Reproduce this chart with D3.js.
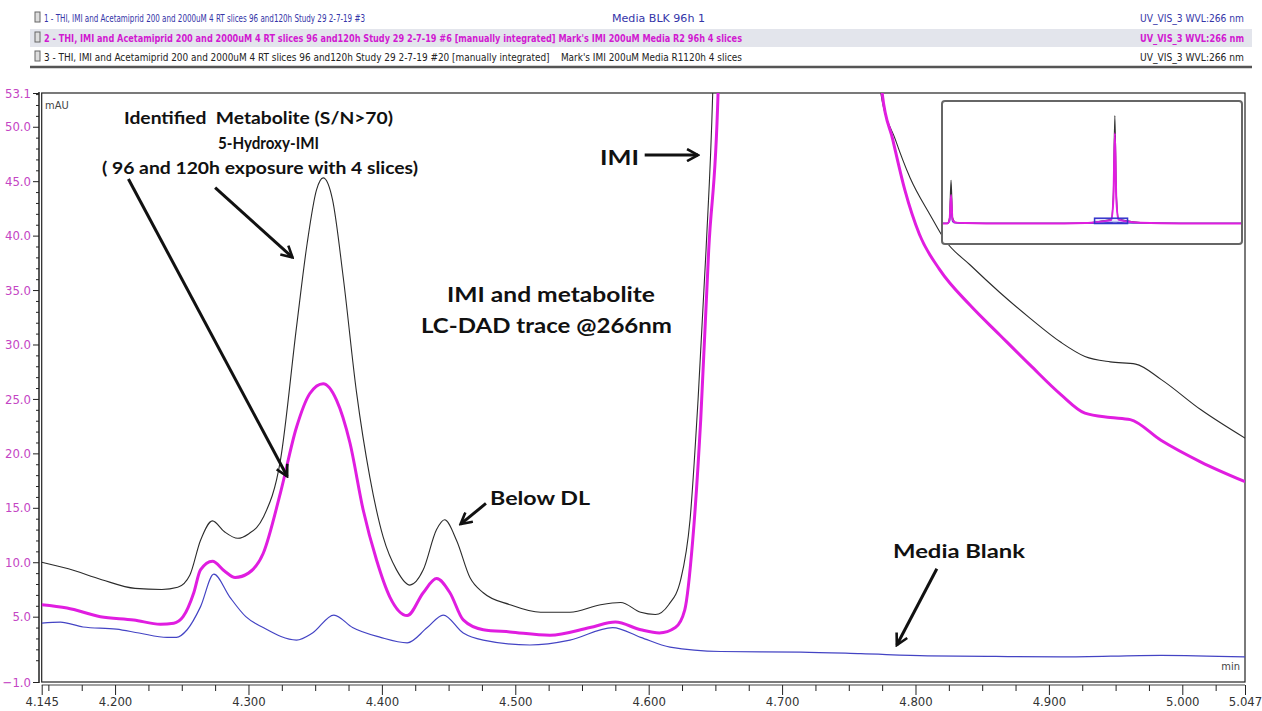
<!DOCTYPE html>
<html>
<head>
<meta charset="utf-8">
<script src="https://cdn.jsdelivr.net/npm/d3@7"></script>
<style>
  body { margin: 0; background: #fff; }
  svg { display: block; }
  .narrow { font-family: "Liberation Sans Narrow", "DejaVu Sans Condensed", "Arial Narrow", sans-serif; white-space: pre; }
  .note { font-family: Lato, "Open Sans", sans-serif; font-weight: bold; fill: #111; white-space: pre; }
</style>
</head>
<body>
<svg width="1262" height="711"></svg>
<script>
// plot box
const plotL = 41.7, plotR = 1245, plotT = 93, plotB = 682;

// trace 1 - media blank (blue)
const blankTime = [4.145, 4.159, 4.176, 4.201, 4.218, 4.239, 4.246, 4.254, 4.264, 4.274, 4.286, 4.298, 4.311, 4.336, 4.348, 4.364, 4.378, 4.399, 4.419, 4.434, 4.446, 4.461, 4.476, 4.511, 4.541, 4.573, 4.594, 4.616, 4.654, 4.714, 4.759, 4.809, 4.860, 4.909, 4.984, 5.047];
const blankAbs  = [4.4, 4.5, 4.05, 3.85, 3.5, 3.1, 3.1, 3.8, 5.9, 8.9, 6.8, 5.0, 4.0, 2.85, 3.5, 5.15, 4.0, 3.1, 2.6, 4.0, 5.15, 3.5, 2.85, 2.4, 2.85, 4.0, 3.1, 2.2, 1.8, 1.75, 1.6, 1.4, 1.35, 1.3, 1.45, 1.3];

// trace 2 - R2 96h (magenta)
const r2Time = [4.145, 4.164, 4.189, 4.214, 4.234, 4.244, 4.251, 4.259, 4.264, 4.273, 4.282, 4.290, 4.300, 4.311, 4.324, 4.336, 4.346, 4.356, 4.366, 4.376, 4.386, 4.396, 4.406, 4.419, 4.431, 4.441, 4.451, 4.461, 4.476, 4.496, 4.526, 4.556, 4.575, 4.594, 4.608, 4.620, 4.627, 4.633, 4.639, 4.645, 4.652, 4.656, 4.665, 4.700, 4.740, 4.766, 4.775, 4.783, 4.792, 4.803, 4.818, 4.841, 4.863, 4.886, 4.909, 4.927, 4.946, 4.961, 4.984, 5.014, 5.047];
const r2Abs  = [6.1, 5.8, 5.0, 4.7, 4.3, 4.4, 5.0, 7.2, 9.3, 10.1, 9.2, 8.6, 9.0, 10.8, 16.4, 22.4, 25.5, 26.4, 24.9, 21.0, 14.8, 10.2, 6.8, 5.1, 7.2, 8.5, 7.2, 4.7, 3.8, 3.6, 3.3, 4.0, 4.5, 3.8, 3.5, 4.0, 5.6, 12.0, 23.1, 38.7, 53.1, 75, 150, 450, 150, 75, 53.1, 48.8, 44.2, 40.1, 36.9, 33.6, 30.9, 28.1, 25.4, 23.7, 23.3, 23.1, 21.2, 19.2, 17.4];

// trace 3 - R1 120h (black)
const r1Time = [4.145, 4.165, 4.190, 4.215, 4.235, 4.247, 4.256, 4.264, 4.273, 4.282, 4.292, 4.300, 4.311, 4.324, 4.336, 4.344, 4.351, 4.356, 4.363, 4.371, 4.381, 4.391, 4.401, 4.411, 4.421, 4.431, 4.441, 4.447, 4.456, 4.466, 4.476, 4.496, 4.519, 4.541, 4.564, 4.579, 4.594, 4.605, 4.615, 4.624, 4.631, 4.637, 4.643, 4.648, 4.652, 4.660, 4.700, 4.740, 4.765, 4.774, 4.785, 4.796, 4.811, 4.822, 4.841, 4.863, 4.886, 4.909, 4.927, 4.946, 4.965, 4.984, 5.014, 5.047];
const r1Abs  = [10.0, 9.4, 8.4, 7.6, 7.5, 7.7, 8.8, 12.0, 13.8, 12.8, 12.2, 12.6, 14.1, 19.4, 31.6, 39.3, 44.2, 45.3, 43.3, 36.2, 25.6, 17.8, 12.3, 9.3, 7.9, 9.3, 13.0, 13.9, 12.0, 8.6, 7.2, 6.1, 5.4, 5.4, 6.1, 6.3, 5.4, 5.2, 6.1, 8.4, 13.9, 24.9, 38.7, 53.1, 75, 150, 500, 150, 75, 53.1, 48.8, 45.3, 41.9, 39.6, 37.3, 34.8, 32.4, 30.2, 28.9, 28.4, 28.2, 26.8, 24.0, 21.4];

// overview inset (whole run)
const ovTime  = [0, 0.12, 0.18, 0.22, 0.26, 0.34, 0.6, 1.5, 3.0, 3.9, 4.3, 4.6, 4.66, 4.70, 4.74, 4.8, 5.0, 5.4, 6.5, 8.15];
const ovBlank = [0, 0, 20, 150, 20, 5, 2, 0, 0, 0, 5, 10, 12, 12, 12, 10, 6, 2, 0, 0];
const ovR2    = [0, 0, 40, 290, 40, 8, 3, 0, 0, 3, 18, 35, 250, 920, 250, 40, 22, 6, 0, 0];
const ovR1    = [0, 0, 60, 440, 60, 10, 3, 0, 0, 3, 22, 42, 300, 1100, 300, 50, 28, 8, 0, 0];

// axis ticks
const xTicks = [4.145, 4.200, 4.300, 4.400, 4.500, 4.600, 4.700, 4.800, 4.900, 5.000, 5.047];
const yTicks = [-1.0, 5.0, 10.0, 15.0, 20.0, 25.0, 30.0, 35.0, 40.0, 45.0, 50.0, 53.1];

const svg = d3.select("svg");

const x = d3.scaleLinear().domain([4.145, 5.047]).range([plotL, plotR]);
const y = d3.scaleLinear().domain([-1.0, 53.1]).range([plotB, plotT]);

// ---- header
svg.append("rect").attr("x", 30).attr("y", 29).attr("width", 1222).attr("height", 18).attr("fill", "#e3e5ec");
svg.append("line").attr("x1", 30).attr("x2", 1252).attr("y1", 67).attr("y2", 67)
  .attr("stroke", "#555").attr("stroke-width", 2.5);

const header = [
  {by: 22, color: "#3535a8", bold: false, size: 11, parts: [
    {t: "1 - THI, IMI and Acetamiprid 200 and 2000uM 4 RT slices 96 and120h Study 29 2-7-19 #3", x: 44, w: 321},
    {t: "Media BLK 96h 1", x: 612, w: 93},
    {t: "UV_VIS_3 WVL:266 nm", x: 1140, w: 104}]},
  {by: 42, color: "#d11ad1", bold: true, size: 10, parts: [
    {t: "2 - THI, IMI and Acetamiprid 200 and 2000uM 4 RT slices 96 and120h Study 29 2-7-19 #6 [manually integrated] Mark's IMI 200uM Media R2 96h 4 slices", x: 44, w: 698},
    {t: "UV_VIS_3 WVL:266 nm", x: 1140, w: 104}]},
  {by: 61, color: "#222", bold: false, size: 11, parts: [
    {t: "3 - THI, IMI and Acetamiprid 200 and 2000uM 4 RT slices 96 and120h Study 29 2-7-19 #20 [manually integrated]    Mark's IMI 200uM Media R1120h 4 slices", x: 44, w: 698},
    {t: "UV_VIS_3 WVL:266 nm", x: 1140, w: 104}]}
];

header.forEach(function(row) {
  // little trace icon
  svg.append("rect").attr("x", 35).attr("y", row.by - 10).attr("width", 5).attr("height", 10)
    .attr("fill", "#ddd").attr("stroke", "#666").attr("stroke-width", 1);
  row.parts.forEach(function(p) {
    svg.append("text").attr("class", "narrow")
      .attr("x", p.x).attr("y", row.by)
      .attr("textLength", p.w).attr("lengthAdjust", "spacingAndGlyphs")
      .style("font-size", row.size + "px").style("font-weight", row.bold ? "bold" : "normal")
      .attr("fill", row.color).text(p.t);
  });
});

// ---- frame
svg.append("rect").attr("x", plotL).attr("y", plotT).attr("width", plotR - plotL).attr("height", plotB - plotT)
  .attr("fill", "none").attr("stroke", "#222").attr("stroke-width", 1.2);
svg.append("line").attr("x1", 39).attr("x2", 39).attr("y1", plotT - 1).attr("y2", plotB + 1)
  .attr("stroke", "#222").attr("stroke-width", 1.5);

// ---- y axis
const yMinor = d3.range(0, 54, 1).filter(function(v) { return v % 5 !== 0; });
svg.append("g").attr("transform", "translate(39,0)")
  .call(d3.axisLeft(y).tickValues(yMinor).tickSize(3).tickFormat(""))
  .call(function(g) { g.select(".domain").remove(); })
  .selectAll("line").attr("stroke", "#222");
const yAx = svg.append("g").attr("transform", "translate(39,0)")
  .call(d3.axisLeft(y).tickValues(yTicks).tickSize(6).tickPadding(2).tickFormat(d3.format(".1f")));
yAx.select(".domain").remove();
yAx.selectAll("line").attr("stroke", "#222");
yAx.selectAll("text").attr("class", "narrow").style("fill", "#c445c4").style("font-size", "13px");

// ---- x axis
const xMinor = d3.range(4.150, 5.046, 0.025).filter(function(v) {
  return Math.abs(v * 10 - Math.round(v * 10)) > 0.01;
});
svg.append("line").attr("x1", plotL).attr("x2", plotR).attr("y1", 685).attr("y2", 685)
  .attr("stroke", "#444").attr("stroke-width", 1.2);
svg.append("g").attr("transform", "translate(0,685)")
  .call(d3.axisBottom(x).tickValues(xMinor).tickSize(6).tickFormat(""))
  .call(function(g) { g.select(".domain").remove(); })
  .selectAll("line").attr("stroke", "#222");
const xAx = svg.append("g").attr("transform", "translate(0,685)")
  .call(d3.axisBottom(x).tickValues(xTicks).tickSize(10).tickPadding(2).tickFormat(d3.format(".3f")));
xAx.select(".domain").remove();
xAx.selectAll("line").attr("stroke", "#222");
xAx.selectAll("text").attr("class", "narrow").style("fill", "#333").style("font-size", "13px");

svg.append("text").attr("class", "narrow").attr("x", 45).attr("y", 109)
  .style("font-size", "11px").attr("fill", "#444").text("mAU");
svg.append("text").attr("class", "narrow").attr("x", 1240).attr("y", 670).attr("text-anchor", "end")
  .style("font-size", "11px").attr("fill", "#444").text("min");

// ---- traces
svg.append("clipPath").attr("id", "plotclip").append("rect")
  .attr("x", plotL).attr("y", plotT).attr("width", plotR - plotL).attr("height", plotB - plotT);

const line = d3.line()
  .x(function(d) { return x(d[0]); })
  .y(function(d) { return y(d[1]); })
  .curve(d3.curveMonotoneX);

const traces = [
  {t: blankTime, v: blankAbs, color: "#4444c4", w: 1.2},
  {t: r1Time, v: r1Abs, color: "#2b2b2b", w: 1.1},
  {t: r2Time, v: r2Abs, color: "#e01de0", w: 3}
];
const plot = svg.append("g").attr("clip-path", "url(#plotclip)");
traces.forEach(function(tr) {
  plot.append("path")
    .datum(d3.zip(tr.t, tr.v))
    .attr("d", line)
    .attr("fill", "none")
    .attr("stroke", tr.color)
    .attr("stroke-width", tr.w)
    .attr("stroke-linejoin", "round");
});

// ---- inset overview
const xi = d3.scaleLinear().domain([0, 8.15]).range([943, 1241]);
const yi = d3.scaleLinear().domain([-200, 1250]).range([243, 101]);
const inset = svg.append("g");
inset.append("rect").attr("x", 942).attr("y", 101).attr("width", 300).attr("height", 143).attr("rx", 3)
  .attr("fill", "#fff").attr("stroke", "#666").attr("stroke-width", 2);
const iline = d3.line()
  .x(function(d) { return xi(d[0]); })
  .y(function(d) { return yi(d[1]); })
  .curve(d3.curveMonotoneX);
[{v: ovR1, color: "#333", w: 1.2}, {v: ovBlank, color: "#4444c4", w: 1.2}, {v: ovR2, color: "#e01de0", w: 2}]
  .forEach(function(tr) {
    inset.append("path").datum(d3.zip(ovTime, tr.v)).attr("d", iline)
      .attr("fill", "none").attr("stroke", tr.color).attr("stroke-width", tr.w);
  });
inset.append("rect")
  .attr("x", xi(4.145)).attr("y", yi(53.1))
  .attr("width", xi(5.047) - xi(4.145)).attr("height", yi(-1.0) - yi(53.1))
  .attr("fill", "rgba(90,90,220,0.15)").attr("stroke", "#3333cc").attr("stroke-width", 1.5);

// ---- annotations
const defs = svg.append("defs");
defs.append("marker").attr("id", "arr").attr("viewBox", "0 0 14 14")
  .attr("refX", 12).attr("refY", 7).attr("markerWidth", 14).attr("markerHeight", 14)
  .attr("markerUnits", "userSpaceOnUse").attr("orient", "auto")
  .append("path").attr("d", "M1,1 L12,7 L1,13").attr("fill", "none")
  .attr("stroke", "#111").attr("stroke-width", 2.6);

const notes = [
  {t: "Identified  Metabolite (S/N>70)", x: 124, y: 124, w: 269, s: 17},
  {t: "5-Hydroxy-IMI", x: 218, y: 149, w: 101, s: 17},
  {t: "( 96 and 120h exposure with 4 slices)", x: 102, y: 174, w: 316, s: 17},
  {t: "IMI", x: 600, y: 165, w: 39, s: 20},
  {t: "IMI and metabolite", x: 447, y: 302, w: 208, s: 20},
  {t: "LC-DAD trace @266nm", x: 421, y: 333, w: 251, s: 20},
  {t: "Below DL", x: 490, y: 505, w: 100, s: 19},
  {t: "Media Blank", x: 893, y: 558, w: 132, s: 19}
];
notes.forEach(function(n) {
  svg.append("text").attr("class", "note").attr("x", n.x).attr("y", n.y)
    .attr("textLength", n.w).attr("lengthAdjust", "spacingAndGlyphs")
    .style("font-size", n.s + "px").text(n.t);
});

// arrows in data units [t0, v0, t1, v1]
const arrows = [
  [4.275, 44.4, 4.333, 38.0],
  [4.210, 45.2, 4.329, 17.9],
  [4.597, 47.4, 4.637, 47.4],
  [4.478, 15.4, 4.459, 13.5],
  [4.816, 9.4, 4.786, 2.4]
];
svg.append("g").selectAll("line").data(arrows).join("line")
  .attr("x1", function(d) { return x(d[0]); })
  .attr("y1", function(d) { return y(d[1]); })
  .attr("x2", function(d) { return x(d[2]); })
  .attr("y2", function(d) { return y(d[3]); })
  .attr("stroke", "#111").attr("stroke-width", 3)
  .attr("marker-end", "url(#arr)");
</script>
</body>
</html>
